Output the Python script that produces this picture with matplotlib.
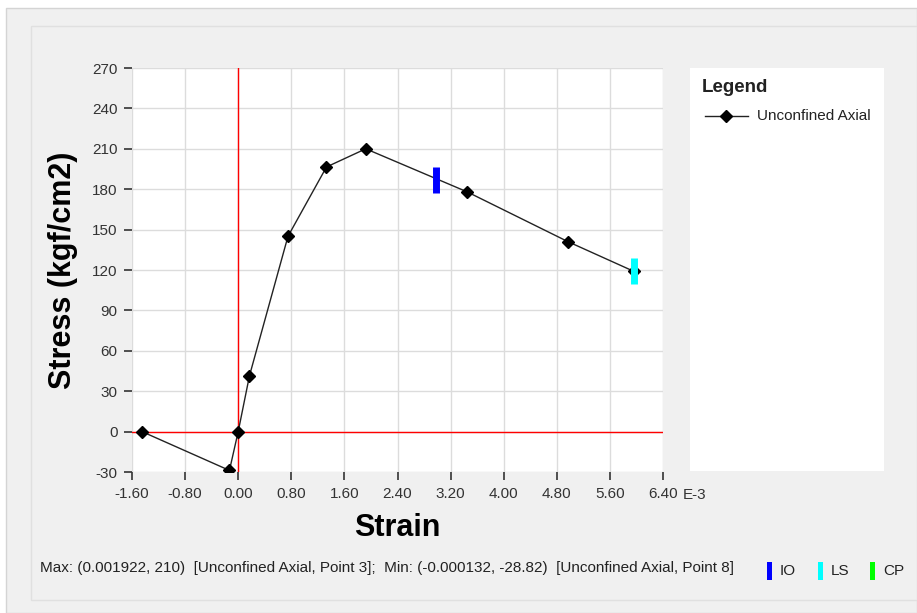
import matplotlib
matplotlib.use("Agg")
import matplotlib.pyplot as plt
from matplotlib.patches import Rectangle
from matplotlib.lines import Line2D

# Stress-strain curve (strain in units of 1E-3)
strain = [-1.45, -0.132, 0.0, 0.17, 0.75, 1.33, 1.922, 3.45, 4.97, 5.96]
stress = [0.0, -28.82, 0.0, 41.5, 145.0, 196.5, 210.0, 178.0, 141.0, 119.0]

# Performance level markers
io_point = (2.98, 187.0)
ls_point = (5.96, 119.0)

x_ticks = [-1.6, -0.8, 0.0, 0.8, 1.6, 2.4, 3.2, 4.0, 4.8, 5.6, 6.4]
y_ticks = [-30, 0, 30, 60, 90, 120, 150, 180, 210, 240, 270]

W, H = 917, 613
fig = plt.figure(figsize=(W / 100, H / 100), dpi=100, facecolor="white")

def px(x0, y0, x1, y1):
    return [x0 / W, 1 - y1 / H, (x1 - x0) / W, (y1 - y0) / H]

# background panels
bg = fig.add_axes([0, 0, 1, 1], zorder=-10)
bg.set_xlim(0, W)
bg.set_ylim(H, 0)
bg.axis("off")
bg.add_patch(Rectangle((6, 8), W - 6, H - 8, facecolor="#f0f0f0", edgecolor="#d4d4d4", lw=1))
bg.add_patch(Rectangle((31, 26), W - 31, 574, facecolor="#f0f0f0", edgecolor="#e0e0e0", lw=1))

font = "Liberation Sans"
tick_color = "#333333"

ax = fig.add_axes(px(132, 68, 663, 472))
ax.set_facecolor("white")
ax.set_xlim(-1.6, 6.4)
ax.set_ylim(-30, 270)
ax.set_xticks(x_ticks)
ax.set_yticks(y_ticks)
ax.set_xticklabels([f"{v:.2f}" for v in x_ticks], fontname=font, fontsize=11, color=tick_color)
ax.set_yticklabels([str(v) for v in y_ticks], fontname=font, fontsize=11, color=tick_color)
ax.grid(True, color="#dcdcdc", lw=1)
ax.set_axisbelow(True)
for s in ax.spines.values():
    s.set_visible(False)
ax.tick_params(length=5.5, width=1.2, color="#333333", pad=5)

ax.axvline(0, color="red", lw=1, zorder=2)
ax.axhline(0, color="red", lw=1, zorder=2)

ax.plot(strain, stress, color="#222222", lw=1, marker="D", markersize=6.5,
        markerfacecolor="black", markeredgecolor="black", zorder=3)
ax.plot(*io_point, marker="|", markersize=19, markeredgewidth=5, color="#0000ff", zorder=4)
ax.plot(*ls_point, marker="|", markersize=19, markeredgewidth=5, color="#00ffff", zorder=4)

fig.text(683 / W, 1 - 495 / H, "E-3", fontname=font, fontsize=11,
         color=tick_color, va="center", ha="left")

ax.set_xlabel("Strain", fontname=font, fontsize=22, fontweight="bold", labelpad=9)
ax.set_ylabel("Stress (kgf/cm2)", fontname=font, fontsize=22, fontweight="bold", labelpad=10)

# legend panel
lg = fig.add_axes(px(690, 68, 884, 471))
lg.set_xlim(0, 194)
lg.set_ylim(403, 0)
lg.set_facecolor("white")
lg.set_xticks([])
lg.set_yticks([])
for s in lg.spines.values():
    s.set_visible(False)
lg.text(12, 19, "Legend", fontname=font, fontsize=13.5, fontweight="bold", va="center", ha="left",
        color="#222222")
lg.add_line(Line2D([15, 58], [48, 48], color="#222222", lw=1))
lg.plot([36], [48], marker="D", markersize=6.5, color="black")
lg.text(67, 48, "Unconfined Axial", fontname=font, fontsize=11, va="center", ha="left", color="#222222")

# status line
fig.text(40 / W, 1 - 568 / H,
         "Max: (0.001922, 210)  [Unconfined Axial, Point 3];  Min: (-0.000132, -28.82)  [Unconfined Axial, Point 8]",
         fontname=font, fontsize=11, va="center", ha="left", color="#222222")
for x0, c, lab in [(767, "#0000ff", "IO"), (818, "#00ffff", "LS"), (870, "#00ff00", "CP")]:
    bg.add_patch(Rectangle((x0, 562), 5, 18, facecolor=c, edgecolor="none"))
    bg.text(x0 + 13, 571, lab, fontname=font, fontsize=11, va="center", ha="left", color="#222222")

fig.savefig("out.png", dpi=100, facecolor=fig.get_facecolor())
